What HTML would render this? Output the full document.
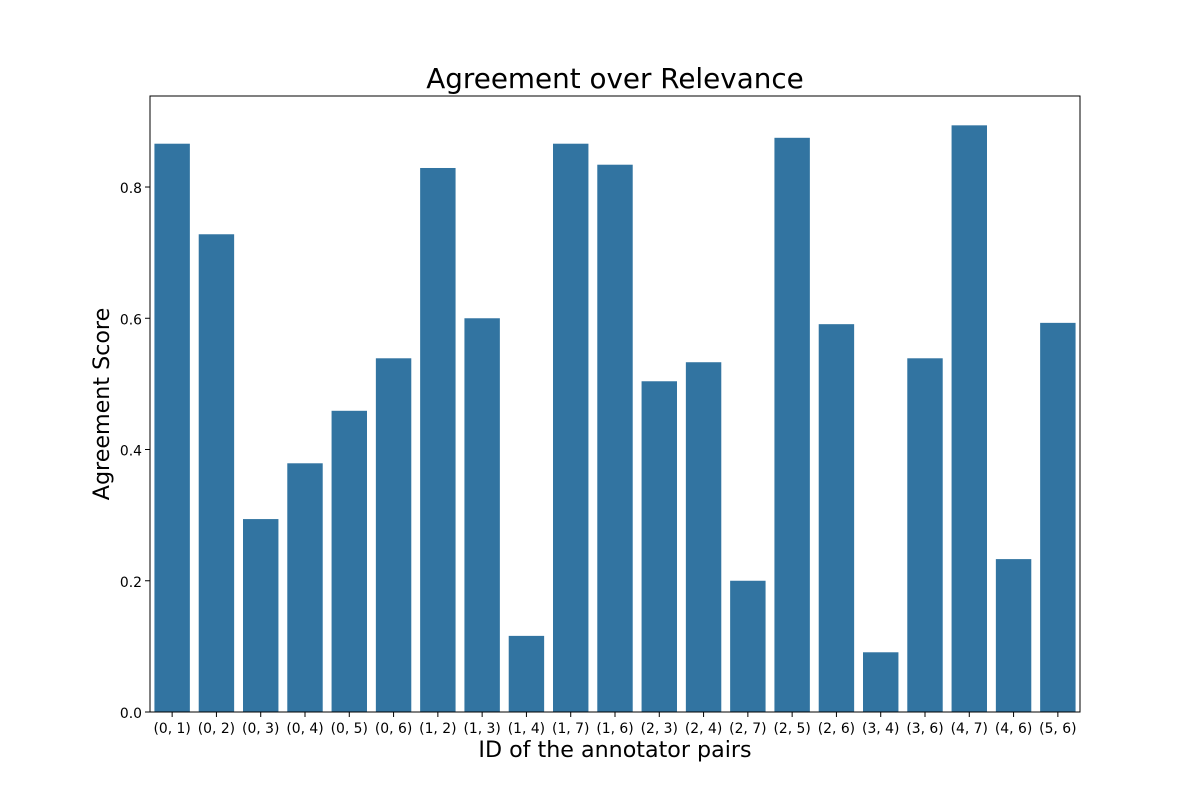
<!DOCTYPE html>
<html><head><meta charset="utf-8"><style>
body{margin:0;background:#fff;}
svg text{font-family:"DejaVu Sans","Liberation Sans",sans-serif;fill:#000;}
</style></head><body>
<svg id="chart" width="1200" height="800">
<text x="615" y="88" text-anchor="middle" font-size="27.8">Agreement over Relevance</text>
<text x="615" y="757" text-anchor="middle" font-size="22.2">ID of the annotator pairs</text>
<text transform="translate(109,404) rotate(-90)" text-anchor="middle" font-size="22.2">Agreement Score</text>
<g id="bars"></g><g id="axes"></g>
</svg>
<script>
const categories=["(0, 1)","(0, 2)","(0, 3)","(0, 4)","(0, 5)","(0, 6)","(1, 2)","(1, 3)","(1, 4)","(1, 7)","(1, 6)","(2, 3)","(2, 4)","(2, 7)","(2, 5)","(2, 6)","(3, 4)","(3, 6)","(4, 7)","(4, 6)","(5, 6)"];
const values=[0.866,0.728,0.294,0.379,0.459,0.539,0.829,0.600,0.116,0.866,0.834,0.504,0.533,0.200,0.875,0.591,0.091,0.539,0.894,0.233,0.593];
const yTicks=[0,0.2,0.4,0.6,0.8];
const yTickLabels=["0.0","0.2","0.4","0.6","0.8"];
const L=150,R=1080,T=96,B=712,yMax=0.9387;
const NS="http://www.w3.org/2000/svg";
const band=(R-L)/categories.length;
const xs=i=>L+band*i;
const ys=v=>B-(v/yMax)*(B-T);
const bars=document.getElementById('bars'),axes=document.getElementById('axes');
function mk(tag,attrs,parent){const e=document.createElementNS(NS,tag);for(const k in attrs)e.setAttribute(k,attrs[k]);parent.appendChild(e);return e;}
values.forEach((v,i)=>{
 const r=mk('rect',{x:xs(i)+band*0.1,y:ys(v),width:band*0.8,height:B-ys(v),fill:'#3274a1'},bars);
 
 
 mk('line',{x1:xs(i)+band/2,x2:xs(i)+band/2,y1:B,y2:B+5,stroke:'#000','stroke-width':1},axes);
 const t=mk('text',{x:xs(i)+band/2,y:B+21,'text-anchor':'middle','font-size':13.9},axes);
 t.textContent=categories[i];
 
 
});
yTicks.forEach((v,i)=>{
 mk('line',{x1:L-5,x2:L,y1:ys(v),y2:ys(v),stroke:'#000','stroke-width':1},axes);
 const t=mk('text',{x:L-8,y:ys(v)+6,'text-anchor':'end','font-size':13.9},axes);
 t.textContent=yTickLabels[i];
 
 
});
const f=mk('rect',{x:L,y:T,width:R-L,height:B-T,fill:'none',stroke:'#000','stroke-width':1},axes);


</script>
</body></html>
